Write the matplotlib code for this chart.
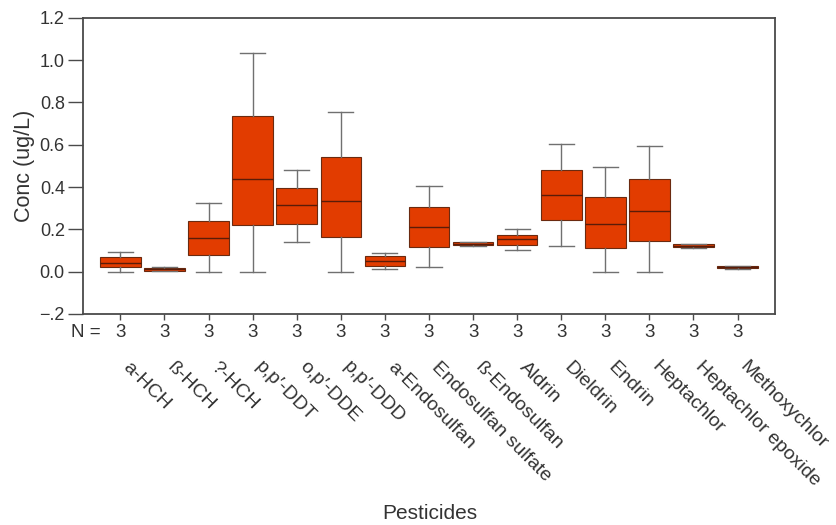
import matplotlib.pyplot as plt
from matplotlib.transforms import blended_transform_factory

plt.rcParams['font.family'] = ['Liberation Sans', 'DejaVu Sans']

# pesticide concentrations, box summaries (ug/L)
pesticides = ["a-HCH", "ß-HCH", "?-HCH", "p,p\u2032-DDT", "o,p\u2032-DDE", "p,p\u2032-DDD",
              "a-Endosulfan", "Endosulfan sulfate", "ß-Endosulfan", "Aldrin",
              "Dieldrin", "Endrin", "Heptachlor", "Heptachlor epoxide",
              "Methoxychlor"]
n_samples = [3, 3, 3, 3, 3, 3, 3, 3, 3, 3, 3, 3, 3, 3, 3]
whis_lo = [0.000, 0.003, 0.000, 0.000, 0.139, 0.000, 0.011, 0.024, 0.123, 0.100,
           0.122, 0.000, 0.000, 0.114, 0.014]
q1 = [0.022, 0.005, 0.078, 0.221, 0.225, 0.164, 0.028, 0.116, 0.124, 0.127,
      0.242, 0.111, 0.147, 0.115, 0.015]
med = [0.043, 0.012, 0.158, 0.439, 0.315, 0.332, 0.049, 0.213, 0.132, 0.155,
       0.364, 0.223, 0.289, 0.122, 0.022]
q3 = [0.068, 0.018, 0.239, 0.738, 0.395, 0.540, 0.073, 0.307, 0.140, 0.175,
      0.480, 0.354, 0.439, 0.129, 0.027]
whis_hi = [0.092, 0.020, 0.324, 1.035, 0.480, 0.754, 0.090, 0.403, 0.142, 0.201,
           0.602, 0.493, 0.594, 0.130, 0.028]

y_ticks = [-0.2, 0.0, 0.2, 0.4, 0.6, 0.8, 1.0, 1.2]
y_ticklabels = ["\u2212.2", "0.0", "0.2", "0.4", "0.6", "0.8", "1.0", "1.2"]

stats = []
for i in range(len(pesticides)):
    stats.append(dict(whislo=whis_lo[i], q1=q1[i], med=med[i], q3=q3[i],
                      whishi=whis_hi[i], fliers=[]))

fig = plt.figure(figsize=(8.37, 5.25), dpi=100)
ax = fig.add_axes([0.099, 0.402, 0.827, 0.564])

pos = list(range(len(pesticides)))
ax.bxp(stats, positions=pos, widths=0.92, patch_artist=True,
       boxprops=dict(facecolor="#e23c00", edgecolor="#6a2a10", linewidth=0.8),
       medianprops=dict(color="#5a1c08", linewidth=1.0),
       whiskerprops=dict(color="#707070", linewidth=1.0),
       capprops=dict(color="#707070", linewidth=1.0),
       capwidths=0.57)

ax.set_xlim(-0.85, 14.85)
ax.set_ylim(-0.2, 1.2)
ax.set_yticks(y_ticks)
ax.set_yticklabels(y_ticklabels)
ax.set_xticks(pos)
ax.set_xticklabels([])

for s in ax.spines.values():
    s.set_color("#4a4a4a")
    s.set_linewidth(1.3)
ax.tick_params(axis="y", length=11, width=1.0, color="#4a4a4a", pad=2,
               labelsize=13, labelcolor="#333333")
ax.tick_params(axis="x", length=4, width=1.0, color="#4a4a4a")

# N counts under each box, then rotated names
trans = blended_transform_factory(ax.transData, ax.transAxes)
ax.text(-0.45, -0.064, "N =", transform=trans, ha="right", va="center",
        fontsize=13.5, color="#333333")
for i, name in enumerate(pesticides):
    ax.text(i, -0.064, str(n_samples[i]), transform=trans, ha="center",
            va="center", fontsize=13.5, color="#333333")
    ax.text(i + 0.25, -0.15, name, transform=trans, ha="left", va="top",
            rotation=-45, rotation_mode="anchor", fontsize=14,
            color="#333333")

ax.set_ylabel("Conc (ug/L)", fontsize=15.5, color="#333333", labelpad=3)
fig.text(0.513, 0.022, "Pesticides", ha="center", va="center", fontsize=15,
         color="#333333")

fig.savefig("out.png", dpi=100)
